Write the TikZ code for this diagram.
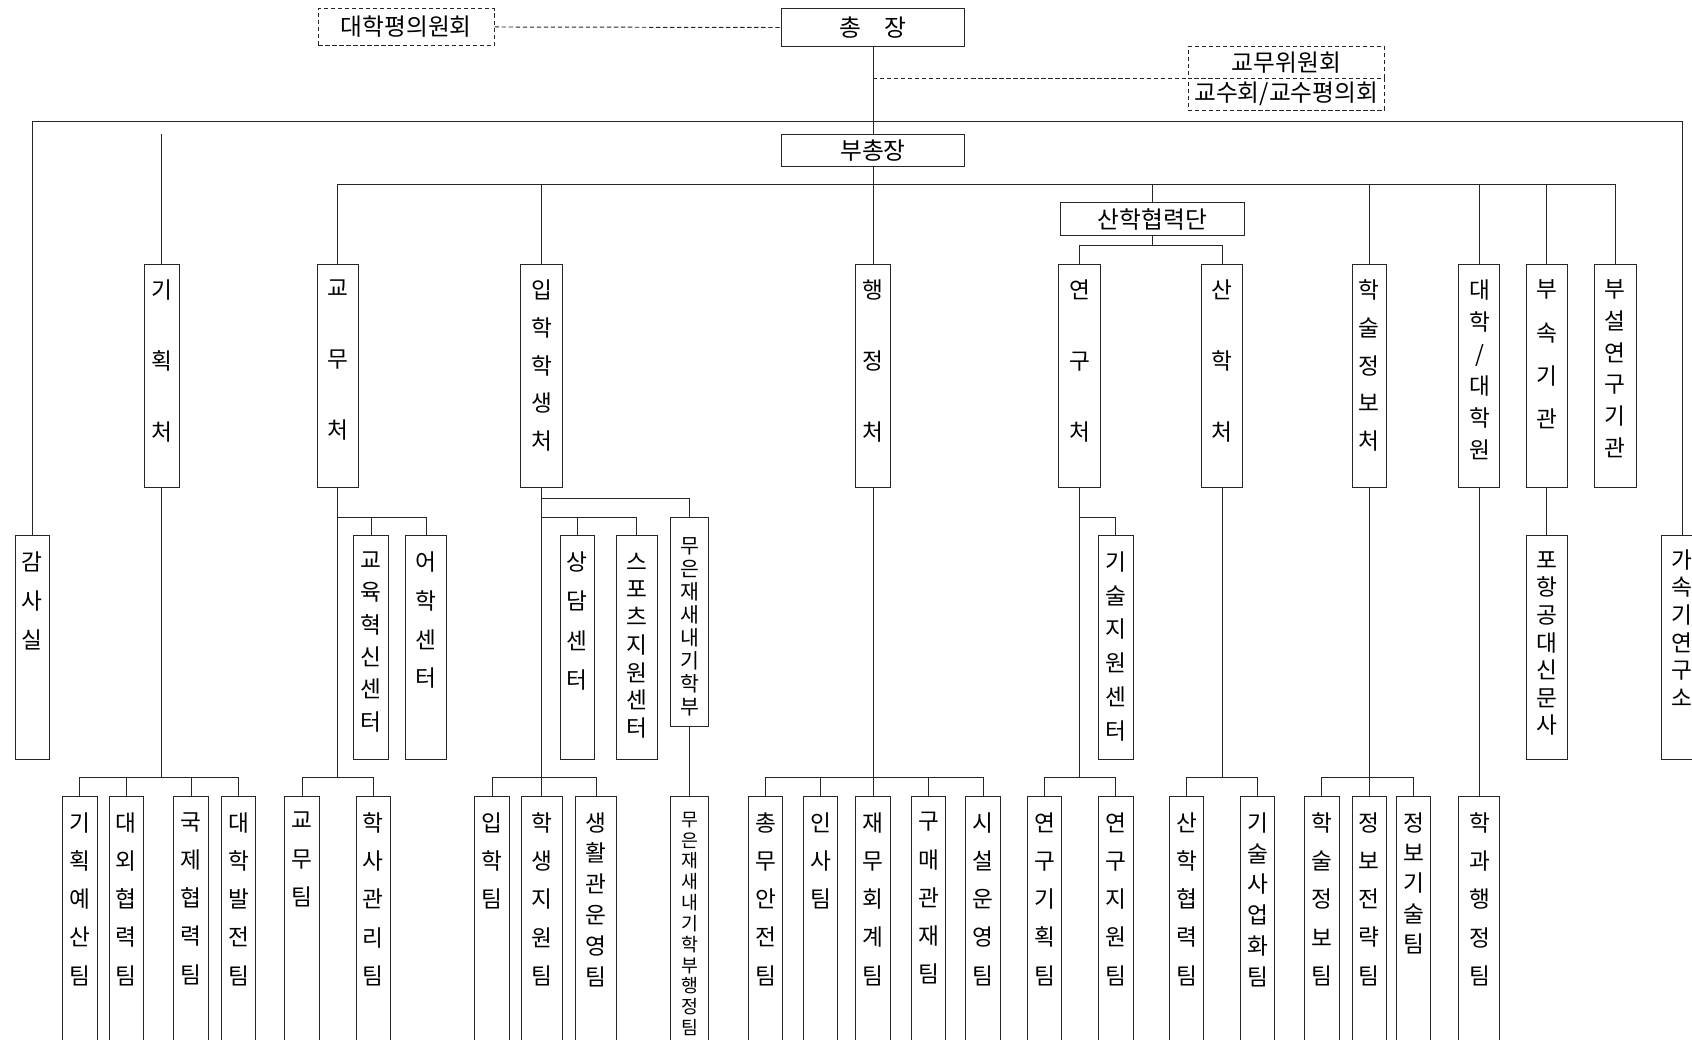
\documentclass[tikz,border=0pt]{standalone}
\usepackage{fontspec}
\setmainfont{Noto Sans CJK KR}
\tikzset{
  ln/.style={draw=black!85, line width=0.9pt},
  dsh/.style={draw=black!85, line width=0.9pt, dash pattern=on 4pt off 2.5pt},
  cb/.style={draw=black!85, line width=0.9pt, rectangle, inner sep=0pt, fill=white},
  dbox/.style={cb, dash pattern=on 4pt off 2.5pt},
  lab/.style={inner sep=0pt, align=center, text=black},
}
% name, x centre, width, top, bottom, font size, pitch, first glyph centre, text
\newcommand\orgcol[9]{%
  \node[cb, minimum width=#3, minimum height={#5-#4}] (#1) at (#2,{(#4+#5)/2}) {};
  \node[lab, font=\fontsize{#6}{#7}\selectfont, anchor=north] (#1t) at (#2,{#8-0.45*#6}) {#9};
}
\begin{document}
\begin{tikzpicture}[x=1pt,y=-1pt, every node/.style={font=\fontsize{22}{26}\selectfont}]
\useasboundingbox (0,0) rectangle (1568,963);
\fill[white] (0,0) rectangle (1568,963);
\clip (0,0) rectangle (1568,963);

% levels
\coordinate (L1) at (0,113);
\coordinate (L2) at (0,171);
\coordinate (L3) at (0,227.7);
\coordinate (Lm1) at (0,462.4);
\coordinate (Lm2) at (0,479.4);
\coordinate (Lb) at (0,720.4);
\coordinate (gstart) at (150,124);

% top
\node[dbox, minimum width=163, minimum height=34] (pyeong) at (376.5,25) {대학평의원회};
\node[cb, minimum width=170, minimum height=35] (chong) at (809,25.5) {총\hspace{22pt}장};
\node[cb, minimum width=170, minimum height=29] (bu) at (809,139.5) {부총장};
\node[dbox, minimum width=182, minimum height=29.6] (gwui) at (1192,57.8) {교무위원회};
\node[dbox, minimum width=182, minimum height=29.4] (gsu) at (1192,87.3) {교수회/교수평의회};
\node[cb, minimum width=170, minimum height=30] (sanhakdan) at (1068,203) {산학협력단};

% upper tier
\orgcol{gihoek}{150}{32}{245}{452}{21}{66}{268.5}{기\\획\\처}
\orgcol{gyomu}{313}{38}{245}{452}{21}{66}{268.5}{교\\무\\처}
\orgcol{ipsaeng}{502}{38.5}{245}{452}{21}{35}{268.5}{입\\학\\학\\생\\처}
\orgcol{haeng}{809}{32}{245}{452}{21}{66}{268.5}{행\\정\\처}
\orgcol{yeongu}{1000.5}{38.5}{245}{452}{21}{66}{268.5}{연\\구\\처}
\orgcol{sanhakcheo}{1132.5}{38}{245}{452}{21}{66}{268.5}{산\\학\\처}
\orgcol{hakseul}{1269}{32}{245}{452}{21}{35}{268.5}{학\\술\\정\\보\\처}
\orgcol{daehak}{1371}{38}{245}{452}{21}{29.6}{268.5}{대\\학\\/\\대\\학\\원}
\orgcol{busok}{1433.5}{38}{245}{452}{21}{40.2}{268.5}{부\\속\\기\\관}
\orgcol{buseol}{1497}{38.5}{245}{452}{21}{29.4}{268.5}{부\\설\\연\\구\\기\\관}

% middle tier
\orgcol{gamsa}{30}{31}{496}{703.5}{21}{36}{520.5}{감\\사\\실}
\orgcol{gyoyuk}{344}{32}{496}{703.5}{21}{30}{520.5}{교\\육\\혁\\신\\센\\터}
\orgcol{eohak}{395}{38}{496}{703.5}{21}{36}{520.5}{어\\학\\센\\터}
\orgcol{sangdam}{535}{32}{496}{703.5}{21}{36.5}{520.5}{상\\담\\센\\터}
\orgcol{sports}{590}{38}{496}{703.5}{21}{25.7}{521.5}{스\\포\\츠\\지\\원\\센\\터}
\orgcol{mueunjae}{639}{35.5}{479.4}{673.4}{19}{21.3}{506.6}{무\\은\\재\\새\\내\\기\\학\\부}
\orgcol{gisul}{1034}{32}{496}{703.5}{21}{31.3}{520.5}{기\\술\\지\\원\\센\\터}
\orgcol{pohang}{1433.5}{38}{496}{703.5}{21}{25.5}{520.5}{포\\항\\공\\대\\신\\문\\사}
\orgcol{gasok}{1559}{38}{496}{703.5}{21}{25.6}{518.5}{가\\속\\기\\연\\구\\소}

% bottom tier
\orgcol{gihoekyesan}{74}{32}{738.3}{1000}{21}{35.5}{762}{기\\획\\예\\산\\팀}
\orgcol{daeoe}{117}{32}{738.3}{1000}{21}{35.5}{762}{대\\외\\협\\력\\팀}
\orgcol{gukje}{177}{32}{738.3}{1000}{21}{35.5}{762}{국\\제\\협\\력\\팀}
\orgcol{baljeon}{221}{32}{738.3}{1000}{21}{35.5}{762}{대\\학\\발\\전\\팀}
\orgcol{tgyomu}{280}{32}{738.3}{1000}{21}{35.5}{762}{교\\무\\팀}
\orgcol{haksa}{346}{32}{738.3}{1000}{21}{35.5}{762}{학\\사\\관\\리\\팀}
\orgcol{iphak}{456}{32}{738.3}{1000}{21}{35.5}{762}{입\\학\\팀}
\orgcol{haksaeng}{502}{38}{738.3}{1000}{21}{35.5}{762}{학\\생\\지\\원\\팀}
\orgcol{saenghwal}{552.5}{38}{738.3}{1000}{21}{28.7}{762}{생\\활\\관\\운\\영\\팀}
\orgcol{mueunteam}{639}{35.5}{738.3}{1000}{17}{19.3}{760}{무\\은\\재\\새\\내\\기\\학\\부\\행\\정\\팀}
\orgcol{chongmu}{709.5}{32}{738.3}{1000}{21}{35.5}{762}{총\\무\\안\\전\\팀}
\orgcol{insa}{760.5}{32}{738.3}{1000}{21}{35.5}{762}{인\\사\\팀}
\orgcol{jaemu}{809}{32}{738.3}{1000}{21}{35.5}{762}{재\\무\\회\\계\\팀}
\orgcol{gumae}{860.5}{32}{738.3}{1000}{21}{35.5}{762}{구\\매\\관\\재\\팀}
\orgcol{siseol}{911}{32}{738.3}{1000}{21}{35.5}{762}{시\\설\\운\\영\\팀}
\orgcol{yeongihoek}{968}{32}{738.3}{1000}{21}{35.5}{762}{연\\구\\기\\획\\팀}
\orgcol{yeonjiwon}{1034}{32}{738.3}{1000}{21}{35.5}{762}{연\\구\\지\\원\\팀}
\orgcol{sanhyeop}{1099.5}{32}{738.3}{1000}{21}{35.5}{762}{산\\학\\협\\력\\팀}
\orgcol{gisulsa}{1165.5}{32}{738.3}{1000}{21}{28.7}{762}{기\\술\\사\\업\\화\\팀}
\orgcol{haksul}{1225}{32}{738.3}{1000}{21}{35.5}{762}{학\\술\\정\\보\\팀}
\orgcol{jeongjeon}{1269}{32}{738.3}{1000}{21}{35.5}{762}{정\\보\\전\\략\\팀}
\orgcol{jeonggi}{1310}{32}{738.3}{1000}{21}{28.2}{762}{정\\보\\기\\술\\팀}
\orgcol{hakgwa}{1371}{38}{738.3}{1000}{21}{35.5}{762}{학\\과\\행\\정\\팀}

% ---------- connectors ----------
\draw[dsh] (pyeong.east) -- (chong.west);
\draw[ln] (chong.south) -- (bu.north);
\draw[dsh] (chong.south |- gwui.south) -- (gwui.south west);
\draw[ln] (gamsa.north) -- (gamsa.north |- L1) -- (gasok.north |- L1) -- (gasok.north);
\draw[ln] (gstart) -- (gihoek.north);
\draw[ln] (bu.south) -- (haeng.north);
\draw[ln] (gyomu.north) -- (gyomu.north |- L2) -- (buseol.north |- L2) -- (buseol.north);
\draw[ln] (ipsaeng.north) -- (ipsaeng.north |- L2);
\draw[ln] (hakseul.north) -- (hakseul.north |- L2);
\draw[ln] (daehak.north) -- (daehak.north |- L2);
\draw[ln] (busok.north) -- (busok.north |- L2);
\draw[ln] (sanhakdan.north) -- (sanhakdan.north |- L2);
\draw[ln] (sanhakdan.south) -- (sanhakdan.south |- L3);
\draw[ln] (yeongu.north) -- (yeongu.north |- L3) -- (sanhakcheo.north |- L3) -- (sanhakcheo.north);

% middle brackets
\draw[ln] (gyomu.south |- Lm2) -| (eohak.north);
\draw[ln] (gyoyuk.north) -- (gyoyuk.north |- Lm2);
\draw[ln] (ipsaeng.south |- Lm1) -| (mueunjae.north);
\draw[ln] (ipsaeng.south |- Lm2) -| (sports.north);
\draw[ln] (sangdam.north) -- (sangdam.north |- Lm2);
\draw[ln] (yeongu.south |- Lm2) -| (gisul.north);
\draw[ln] (busok.south) -- (pohang.north);
\draw[ln] (mueunjae.south) -- (mueunteam.north);

% bottom brackets
\draw[ln] (gihoek.south) -- (gihoek.south |- Lb);
\draw[ln] (gihoekyesan.north) -- (gihoekyesan.north |- Lb) -- (baljeon.north |- Lb) -- (baljeon.north);
\draw[ln] (daeoe.north) -- (daeoe.north |- Lb);
\draw[ln] (gukje.north) -- (gukje.north |- Lb);

\draw[ln] (gyomu.south) -- (gyomu.south |- Lb);
\draw[ln] (tgyomu.north) -- (tgyomu.north |- Lb) -- (haksa.north |- Lb) -- (haksa.north);

\draw[ln] (ipsaeng.south) -- (haksaeng.north);
\draw[ln] (iphak.north) -- (iphak.north |- Lb) -- (saenghwal.north |- Lb) -- (saenghwal.north);

\draw[ln] (haeng.south) -- (jaemu.north);
\draw[ln] (chongmu.north) -- (chongmu.north |- Lb) -- (siseol.north |- Lb) -- (siseol.north);
\draw[ln] (insa.north) -- (insa.north |- Lb);
\draw[ln] (gumae.north) -- (gumae.north |- Lb);

\draw[ln] (yeongu.south) -- (yeongu.south |- Lb);
\draw[ln] (yeongihoek.north) -- (yeongihoek.north |- Lb) -- (yeonjiwon.north |- Lb) -- (yeonjiwon.north);

\draw[ln] (sanhakcheo.south) -- (sanhakcheo.south |- Lb);
\draw[ln] (sanhyeop.north) -- (sanhyeop.north |- Lb) -- (gisulsa.north |- Lb) -- (gisulsa.north);

\draw[ln] (hakseul.south) -- (jeongjeon.north);
\draw[ln] (haksul.north) -- (haksul.north |- Lb) -- (jeonggi.north |- Lb) -- (jeonggi.north);

\draw[ln] (daehak.south) -- (hakgwa.north);
\end{tikzpicture}
\end{document}
